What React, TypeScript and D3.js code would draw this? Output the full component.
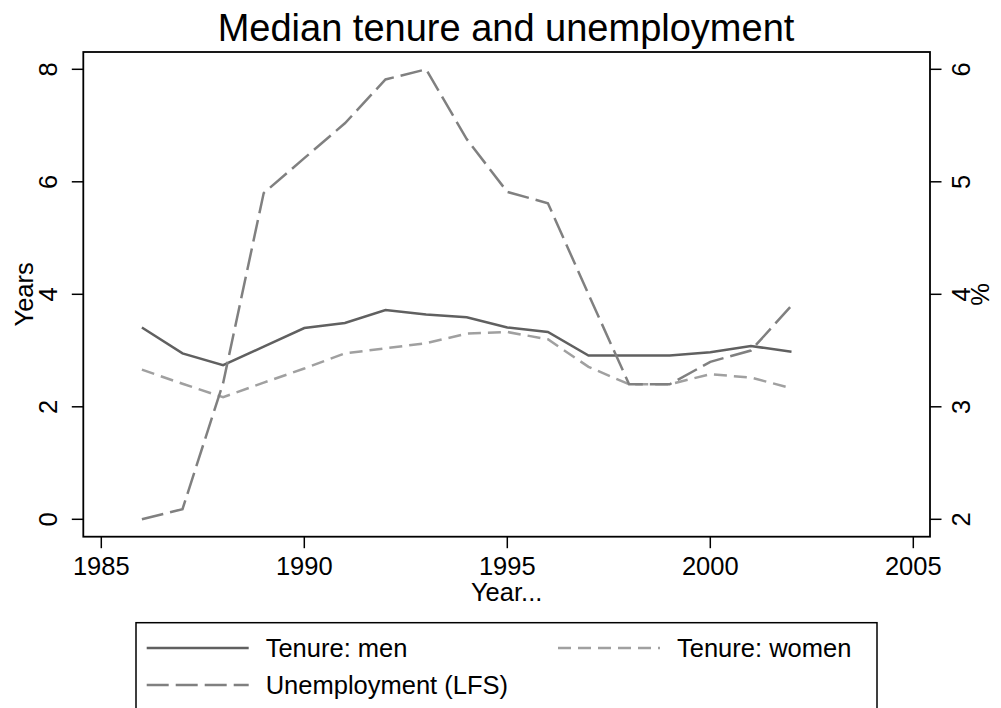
import React, { useMemo } from 'react';
import * as d3 from 'd3';

const WIDTH = 1001;
const HEIGHT = 708;
const FONT = '"Liberation Sans", Arial, Helvetica, sans-serif';

const years = [1986, 1987, 1988, 1989, 1990, 1991, 1992, 1993, 1994, 1995, 1996, 1997, 1998, 1999, 2000, 2001, 2002];
const tenureMen = [3.41, 2.95, 2.74, 3.07, 3.4, 3.49, 3.72, 3.64, 3.59, 3.41, 3.33, 2.91, 2.91, 2.91, 2.97, 3.08, 2.98];
const tenureWomen = [2.66, 2.41, 2.17, 2.43, 2.68, 2.95, 3.04, 3.13, 3.3, 3.33, 3.2, 2.71, 2.4, 2.4, 2.58, 2.52, 2.33];
const unemployment = [2.0, 2.09, 3.21, 4.9, 5.21, 5.52, 5.91, 6.0, 5.38, 4.91, 4.81, 4.0, 3.2, 3.2, 3.4, 3.5, 3.9];

const xTicks = [1985, 1990, 1995, 2000, 2005];
const leftTicks = [0, 2, 4, 6, 8];
const rightTicks = [2, 3, 4, 5, 6];

// plot frame
const frame = { left: 83.3, right: 930, top: 52, bottom: 536.7 };

const styles = {
  men: { stroke: '#606060', dash: undefined },
  women: { stroke: '#a0a0a0', dash: '13 7' },
  unemp: { stroke: '#808080', dash: '22 7' },
};

export default function App() {
  const x = useMemo(() => d3.scaleLinear().domain([1985, 2005]).range([101.3, 913.3]), []);
  const yLeft = useMemo(() => d3.scaleLinear().domain([0, 8]).range([519.3, 69.3]), []);
  const yRight = useMemo(() => d3.scaleLinear().domain([2, 6]).range([519.3, 69.3]), []);

  const paths = useMemo(() => {
    const lineLeft = d3.line<number>().x((_, i) => x(years[i])).y(d => yLeft(d));
    const lineRight = d3.line<number>().x((_, i) => x(years[i])).y(d => yRight(d));
    return {
      men: lineLeft(tenureMen),
      women: lineLeft(tenureWomen),
      unemp: lineRight(unemployment),
    };
  }, [x, yLeft, yRight]);

  const midY = (frame.top + frame.bottom) / 2;
  const midX = (frame.left + frame.right) / 2;

  const legendItems = [
    { label: 'Tenure: men', style: styles.men, x: 146.7, y: 648 },
    { label: 'Tenure: women', style: styles.women, x: 558, y: 648 },
    { label: 'Unemployment (LFS)', style: styles.unemp, x: 146.7, y: 685 },
  ];

  return (
    <svg
      width={WIDTH}
      height={HEIGHT}
      style={{ position: 'absolute', left: 0, top: 0, background: '#fff' }}
      fontFamily={FONT}
    >
      <rect width={WIDTH} height={HEIGHT} fill="#fff" />

      <text x={506} y={41} fontSize={38} textAnchor="middle" fill="#000">
        Median tenure and unemployment
      </text>

      {/* series */}
      <g fill="none" strokeWidth={2.5}>
        <path d={paths.men || ''} stroke={styles.men.stroke} />
        <path d={paths.women || ''} stroke={styles.women.stroke} strokeDasharray={styles.women.dash} />
        <path d={paths.unemp || ''} stroke={styles.unemp.stroke} strokeDasharray={styles.unemp.dash} />
      </g>

      {/* frame */}
      <rect
        x={frame.left}
        y={frame.top}
        width={frame.right - frame.left}
        height={frame.bottom - frame.top}
        fill="none"
        stroke="#000"
        strokeWidth={1.8}
      />

      {/* x axis */}
      <g fontSize={25.5} fill="#000">
        {xTicks.map(t => (
          <g key={t}>
            <line x1={x(t)} x2={x(t)} y1={frame.bottom} y2={frame.bottom + 11.5} stroke="#000" strokeWidth={1.5} />
            <text x={x(t)} y={575} textAnchor="middle">{t}</text>
          </g>
        ))}
        <text x={midX} y={601} textAnchor="middle">Year...</text>
      </g>

      {/* left axis */}
      <g fontSize={25.5} fill="#000">
        {leftTicks.map(t => (
          <g key={t}>
            <line x1={frame.left - 11.5} x2={frame.left} y1={yLeft(t)} y2={yLeft(t)} stroke="#000" strokeWidth={1.5} />
            <text transform={`translate(57,${yLeft(t)}) rotate(-90)`} textAnchor="middle">{t}</text>
          </g>
        ))}
        <text transform={`translate(33,${midY}) rotate(-90)`} textAnchor="middle">Years</text>
      </g>

      {/* right axis */}
      <g fontSize={25.5} fill="#000">
        {rightTicks.map(t => (
          <g key={t}>
            <line x1={frame.right} x2={frame.right + 11.5} y1={yRight(t)} y2={yRight(t)} stroke="#000" strokeWidth={1.5} />
            <text transform={`translate(970,${yRight(t)}) rotate(-90)`} textAnchor="middle">{t}</text>
          </g>
        ))}
        <text transform={`translate(989,${midY}) rotate(-90)`} textAnchor="middle">%</text>
      </g>

      {/* legend */}
      <rect x={136} y={622.7} width={877 - 136} height={100} fill="#fff" stroke="#000" strokeWidth={1.5} />
      {legendItems.map(item => (
        <g key={item.label}>
          <line
            x1={item.x}
            x2={item.x + 102}
            y1={item.y}
            y2={item.y}
            stroke={item.style.stroke}
            strokeWidth={2.5}
            strokeDasharray={item.style.dash}
          />
          <text x={item.x + 119} y={item.y + 9.2} fontSize={25.5} fill="#000">{item.label}</text>
        </g>
      ))}
    </svg>
  );
}
